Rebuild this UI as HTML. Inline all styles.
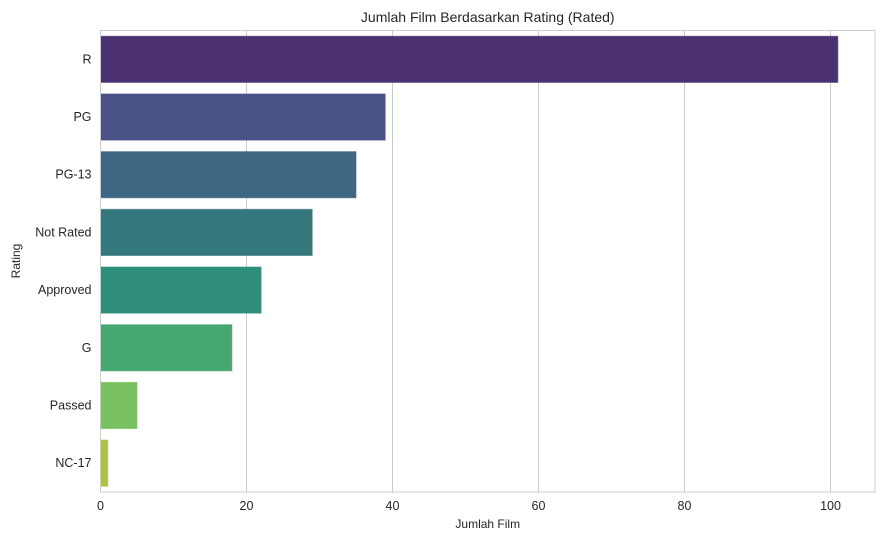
<!DOCTYPE html>
<html><head><meta charset="utf-8"><style>
body{margin:0;background:#fff;font-family:"Liberation Sans",sans-serif;}
svg text{font-family:"Liberation Sans",sans-serif;fill:#262626;}
</style></head><body>
<svg id="chart" width="885" height="541"></svg>
<script>
const categories=["R","PG","PG-13","Not Rated","Approved","G","Passed","NC-17"];
const values=[101,39,35,29,22,18,5,1];
const colors=["#4b3170","#4a5186","#3e6784","#35787e","#2e8e7b","#47a771","#79c060","#aac53e"];
const xTicks=[0,20,40,60,80,100];
const NS="http://www.w3.org/2000/svg";
const svg=document.getElementById('chart');
const L=100.5,R=875,T=30.5,B=492;
const xs=v=>L+v*7.3;
const band=(B-T)/categories.length;
function mk(t,a,p){const e=document.createElementNS(NS,t);for(const k in a)e.setAttribute(k,a[k]);(p||svg).appendChild(e);return e;}
xTicks.forEach(t=>{
  const g=mk('line',{x1:xs(t),x2:xs(t),y1:T,y2:B,stroke:'#cccccc','stroke-width':1});
  
  
  const tx=mk('text',{x:xs(t),y:B+18,'text-anchor':'middle','font-size':12.5});
  tx.textContent=t;
  
  
});
categories.forEach((c,i)=>{
  const cy=T+band*(i+0.5),h=band*0.8;
  const r=mk('rect',{x:xs(0),y:cy-h/2,width:xs(values[i])-xs(0),height:h,fill:colors[i],stroke:colors[i],'stroke-opacity':0.6});
  
  
  const tx=mk('text',{x:L-9,y:cy+4,'text-anchor':'end','font-size':12.5});
  tx.textContent=c;
  
  
});
const fr=mk('rect',{x:L,y:T,width:R-L,height:B-T,fill:'none',stroke:'#cccccc','stroke-width':1});


const ti=mk('text',{x:(L+R)/2,y:22,'text-anchor':'middle','font-size':14});
ti.textContent='Jumlah Film Berdasarkan Rating (Rated)';


const xl=mk('text',{x:(L+R)/2,y:528,'text-anchor':'middle','font-size':12});
xl.textContent='Jumlah Film';


const yl=mk('text',{x:0,y:0,'text-anchor':'middle','font-size':12,transform:'translate(20,261) rotate(-90)'});
yl.textContent='Rating';


</script>
</body></html>
